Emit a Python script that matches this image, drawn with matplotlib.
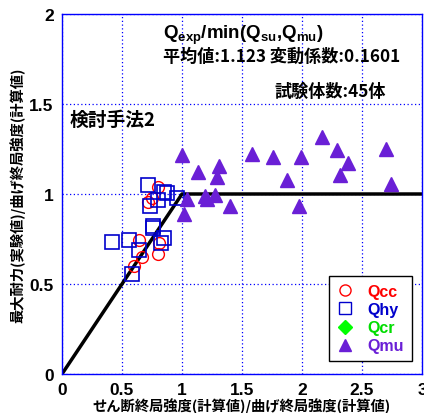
import matplotlib
matplotlib.use("Agg")
import matplotlib.pyplot as plt
from matplotlib.lines import Line2D

plt.rcParams['font.family'] = ['Noto Sans CJK JP', 'DejaVu Sans']
plt.rcParams['mathtext.fontset'] = 'custom'
plt.rcParams['mathtext.rm'] = 'Liberation Sans:bold'
plt.rcParams['mathtext.default'] = 'rm'

# Qcc (circles)
qcc_x = [0.803, 0.747, 0.714, 0.642, 0.811, 0.669, 0.803, 0.603]
qcc_y = [1.041, 0.976, 0.954, 0.744, 0.728, 0.648, 0.667, 0.598]
# Qhy (squares)
qhy_x = [0.719, 0.853, 0.872, 0.797, 0.733, 0.961, 0.761, 0.756,
         0.419, 0.558, 0.853, 0.822, 0.642, 0.586]
qhy_y = [1.050, 1.013, 1.006, 0.968, 0.935, 0.976, 0.824, 0.809,
         0.735, 0.746, 0.754, 0.728, 0.689, 0.556]
# Qcr (diamonds) - no specimens
qcr_x = []
qcr_y = []
# Qmu (triangles)
qmu_x = [1.003, 1.136, 1.306, 1.289, 1.586, 1.756, 1.872, 1.044, 1.192,
         1.211, 1.278, 1.400, 1.017, 2.169, 2.289, 1.994, 2.386, 2.317,
         2.697, 2.739, 1.978]
qmu_y = [1.217, 1.124, 1.153, 1.092, 1.222, 1.207, 1.079, 0.972, 0.991,
         0.972, 0.994, 0.931, 0.889, 1.315, 1.246, 1.207, 1.172, 1.107,
         1.250, 1.056, 0.935]

# strength line: min(x, 1)
line_x = [0, 1, 3]
line_y = [0, 1, 1]

blue = '#0000ff'
purple = '#6a1fd6'

fig = plt.figure(figsize=(4.24, 4.14), dpi=100)
ax = fig.add_axes([62 / 424, 39 / 414, 360 / 424, 360 / 414])

ax.plot(line_x, line_y, color='black', lw=2.5, zorder=2)
ax.plot(qcc_x, qcc_y, 'o', ms=8.5, mfc='none', mec='#ff0000', mew=1.0, zorder=3)
ax.plot(qhy_x, qhy_y, 's', ms=9.5, mfc='none', mec='#0000cc', mew=1.2, zorder=3)
ax.plot(qcr_x, qcr_y, 'D', ms=7, color='#00ff00', zorder=3)
ax.plot(qmu_x, qmu_y, '^', ms=9.5, color=purple, mec=purple, zorder=3)

ax.set_xlim(0, 3)
ax.set_ylim(0, 2)
ax.set_xticks([0, 0.5, 1, 1.5, 2, 2.5, 3])
ax.set_xticklabels(['0', '0.5', '1', '1.5', '2', '2.5', '3'])
ax.set_yticks([0, 0.5, 1, 1.5, 2])
ax.set_yticklabels(['0', '0.5', '1', '1.5', '2'])
ax.tick_params(length=0, pad=6)
for lab in ax.get_xticklabels() + ax.get_yticklabels():
    lab.set_fontfamily('Liberation Sans')
    lab.set_fontweight('bold')
    lab.set_fontsize(12.5)
ax.grid(True, color=blue, linestyle=(0, (1, 2)), lw=0.9)
for s in ax.spines.values():
    s.set_color(blue)
    s.set_linewidth(1.0)

ax.set_xlabel('せん断終局強度(計算値)/曲げ終局強度(計算値)', fontsize=10.3,
              fontweight='bold', labelpad=0)
ax.set_ylabel('最大耐力(実験値)/曲げ終局強度(計算値)', fontsize=10.3,
              fontweight='bold', labelpad=3)

ax.text(0.84, 1.885, r'$Q_{exp}/min(Q_{su}{,}Q_{mu})$', fontsize=13.5,
        ha='left', va='center')
ax.text(0.84, 1.77, '平均値:1.123 変動係数:0.1601', fontsize=12.3,
        fontweight='bold', ha='left', va='center')
ax.text(1.77, 1.575, '試験体数:45体', fontsize=12.3, fontweight='bold',
        ha='left', va='center')
ax.text(0.06, 1.415, '検討手法2', fontsize=13.5, fontweight='bold',
        ha='left', va='center')

handles = [
    Line2D([], [], ls='none', marker='o', ms=8, mfc='none', mec='#ff0000'),
    Line2D([], [], ls='none', marker='s', ms=9, mfc='none', mec='#0000cc'),
    Line2D([], [], ls='none', marker='D', ms=7, color='#00ff00'),
    Line2D([], [], ls='none', marker='^', ms=9, color=purple),
]
leg = ax.legend(handles, ['Qcc', 'Qhy', 'Qcr', 'Qmu'], loc='lower right',
                bbox_to_anchor=(0.972, 0.035), frameon=True, fancybox=False,
                edgecolor='black', framealpha=1, handlelength=1.0,
                handletextpad=0.9, labelspacing=0.2, borderpad=0.5,
                borderaxespad=0,
                prop={'family': 'Liberation Sans', 'weight': 'bold', 'size': 11.5})
leg.get_frame().set_linewidth(1.0)
for txt, c in zip(leg.get_texts(), ['#ff0000', '#0000cc', '#00dd00', purple]):
    txt.set_color(c)

fig.savefig('out.png', dpi=100)
